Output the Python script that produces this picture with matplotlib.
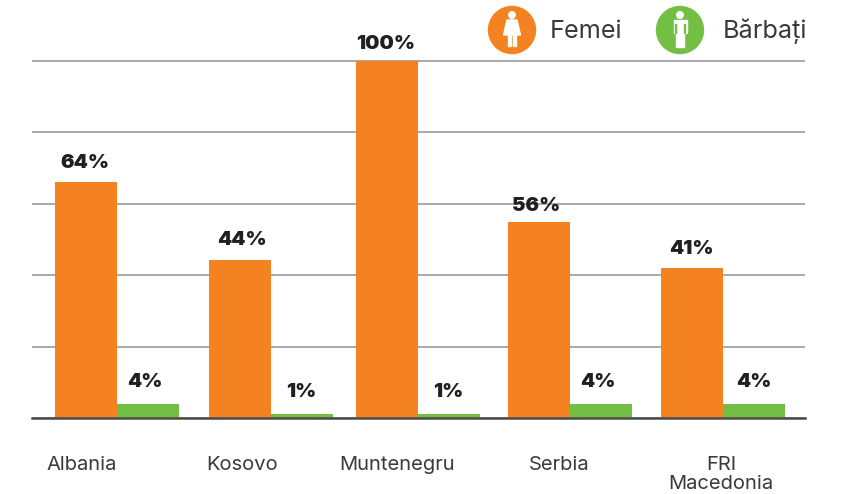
import matplotlib
matplotlib.use("Agg")
import matplotlib.pyplot as plt
from matplotlib.patches import Circle, Polygon, Rectangle

countries = ["Albania", "Kosovo", "Muntenegru", "Serbia", "FRI\nMacedonia"]
# bar heights as drawn in the picture, the printed labels differ a little
femei = [66, 44.3, 100, 55, 42]
barbati = [4, 1, 1, 4, 4]
femei_labels = ["64%", "44%", "100%", "56%", "41%"]
barbati_labels = ["4%", "1%", "1%", "4%", "4%"]

# layout, in reference pixels
group_x = [117, 271, 418, 570, 723]
label_x = [82, 242, 397, 559, 721]
femei_label_x = [85, 242, 386, 536, 691]
barbati_label_x = [145, 301, 448, 598, 754]
femei_label_gap = [7.5, 7.5, 6, 4.8, 7.5]
bar_w = 62

ORANGE = "#f58220"
GREEN = "#72bf44"
W, H = 844, 494
L, R, TOP, BOTTOM = 32, 805, 61, 418

plt.rcParams["font.family"] = ["Inter", "DejaVu Sans"]

fig = plt.figure(figsize=(W / 100, H / 100), dpi=100)
ax = fig.add_axes([L / W, 1 - BOTTOM / H, (R - L) / W, (BOTTOM - TOP) / H])
ax.set_xlim(L, R)
ax.set_ylim(0, 100)

ax.set_yticks([0, 20, 40, 60, 80, 100])
ax.tick_params(axis="y", length=0, labelleft=False)
ax.grid(axis="y", color="#a3a3a3", lw=1.3, clip_on=False, solid_capstyle="butt")
ax.set_axisbelow(True)
for s in ["top", "left", "right"]:
    ax.spines[s].set_visible(False)
ax.spines["bottom"].set_color("#4a4a4a")
ax.spines["bottom"].set_linewidth(1.8)

ax.bar([x - bar_w / 2 for x in group_x], femei, bar_w, color=ORANGE, zorder=2)
ax.bar([x + bar_w / 2 for x in group_x], barbati, bar_w, color=GREEN, zorder=2)

for x, v, s, gap in zip(femei_label_x, femei, femei_labels, femei_label_gap):
    ax.annotate(s, (x, v), xytext=(0, gap), textcoords="offset points",
                ha="center", va="bottom", fontsize=14.5, fontweight="black", color="#231f20")
for x, v, s in zip(barbati_label_x, barbati, barbati_labels):
    ax.annotate(s, (x, v), xytext=(0, 9.5), textcoords="offset points",
                ha="center", va="bottom", fontsize=14.5, fontweight="black", color="#231f20")

ax.set_xticks(label_x)
ax.set_xticklabels(countries, fontsize=14.5, color="#3a3a3a", linespacing=1.12)
ax.tick_params(axis="x", length=0, pad=27)
for t in ax.get_xticklabels():
    t.set_verticalalignment("top")

# legend drawn in pixel coordinates on top
px = fig.add_axes([0, 0, 1, 1])
px.set_xlim(0, W)
px.set_ylim(H, 0)
px.axis("off")
px.patch.set_alpha(0)


def femei_icon(cx, cy):
    px.add_patch(Circle((cx, cy), 23.5, color=ORANGE))
    px.add_patch(Circle((cx, cy - 15), 3.3, color="white"))
    px.add_patch(Polygon([(cx - 5, cy - 10), (cx + 5, cy - 10), (cx + 8.5, cy + 5),
                          (cx - 8.5, cy + 5)], color="white"))
    px.add_patch(Rectangle((cx - 4, cy + 5), 3, 11.5, color="white"))
    px.add_patch(Rectangle((cx + 1, cy + 5), 3, 11.5, color="white"))


def barbati_icon(cx, cy):
    px.add_patch(Circle((cx, cy), 23.5, color=GREEN))
    px.add_patch(Circle((cx, cy - 15), 3.3, color="white"))
    px.add_patch(Rectangle((cx - 6.5, cy - 10), 13, 13, color="white"))
    px.add_patch(Rectangle((cx - 4, cy + 3), 3.6, 14, color="white"))
    px.add_patch(Rectangle((cx + 0.4, cy + 3), 3.6, 14, color="white"))
    px.add_patch(Rectangle((cx - 4.6, cy - 6), 0.7, 9, color=GREEN))
    px.add_patch(Rectangle((cx + 3.9, cy - 6), 0.7, 9, color=GREEN))


femei_icon(512, 30)
barbati_icon(680, 30)
px.text(550, 31, "Femei", fontsize=18.2, color="#3a3a3a", va="center", ha="left")
px.text(723, 31, "Bărbați", fontsize=18.2, color="#3a3a3a", va="center", ha="left")

fig.savefig("out.png", dpi=100)
